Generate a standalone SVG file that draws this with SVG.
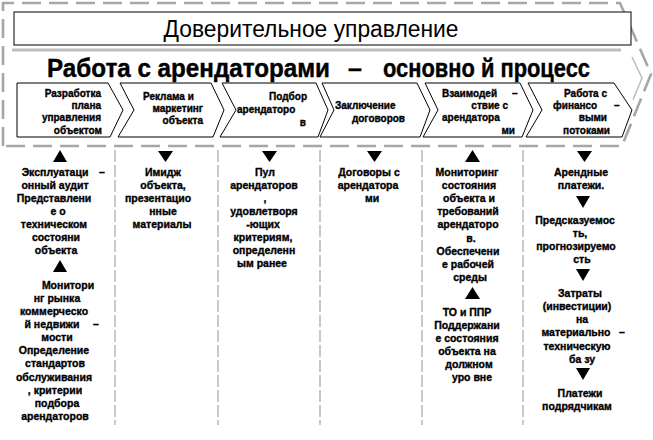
<svg xmlns="http://www.w3.org/2000/svg" width="653" height="440" viewBox="0 0 653 440">
<style>
.frame{fill:none;stroke:#a6a6a6;stroke-width:2.6;stroke-dasharray:19 8}
.div{fill:none;stroke:#a6a6a6;stroke-width:1.2;stroke-dasharray:12 3}
.box{fill:#fff;stroke:#000;stroke-width:1}
.chev{fill:#fff;stroke:#000;stroke-width:1}
.t{font-family:"Liberation Sans",Arial,sans-serif;font-weight:bold;font-size:10.5px;fill:#000;stroke:#000;stroke-width:0.35}
.c{font-family:"Liberation Sans",Arial,sans-serif;font-weight:bold;font-size:10px;fill:#000;stroke:#000;stroke-width:0.35}
.h{font-family:"Liberation Sans",Arial,sans-serif;font-weight:bold;font-size:25px;fill:#000;stroke:#000;stroke-width:0.4}
.m{text-anchor:middle}
.e{text-anchor:end}
.tri{fill:#000}
</style>
<rect width="653" height="440" fill="#fff"/>
<g id="frame">
<path class="frame" d="M3,146 L3,3 L620,3 L651,74 L622,146 Z"/>
</g>
<g id="title">
<rect class="box" x="14" y="12" width="617" height="33"/>
<text x="311" y="37" font-family="'Liberation Sans',Arial,sans-serif" font-size="23" text-anchor="middle" textLength="295" lengthAdjust="spacingAndGlyphs">Доверительное управление</text>
</g>
<g id="main-process">
<line x1="12" y1="50" x2="621" y2="50" stroke="#bdbdbd" stroke-width="3"/>
<polyline points="632,57 642,78 633,100" fill="none" stroke="#bdbdbd" stroke-width="1.5"/>
<text class="h" x="47" y="77" textLength="283" lengthAdjust="spacingAndGlyphs">Работа с арендаторами</text>
<text class="h" x="348" y="77">–</text>
<text class="h" x="383" y="77" textLength="207" lengthAdjust="spacingAndGlyphs">основно й процесс</text>
</g>
<g id="step1">
<path class="chev" d="M17,83 L108,83 L123,110 L110,137 L17,137 Z"/>
<text class="c e" x="101" y="97">Разработка</text>
<text class="c e" x="101" y="109">плана</text>
<text class="c e" x="101" y="121">управления</text>
<text class="c e" x="102" y="134">объектом</text>
</g>
<g id="step2">
<path class="chev" d="M120,83 L211,83 L224,110 L213,137 L118,137 L134,110 Z"/>
<text class="c" x="143" y="100">Реклама и</text>
<text class="c e" x="203" y="112">маркетинг</text>
<text class="c e" x="203" y="124">объекта</text>
</g>
<g id="step3">
<path class="chev" d="M222,83 L316,83 L328,110 L318,137 L220,137 L236,110 Z"/>
<text class="c e" x="307" y="100">Подбор</text>
<text class="c" x="237" y="113">арендаторо</text>
<text class="c e" x="306" y="126">в</text>
</g>
<g id="step4">
<path class="chev" d="M322,83 L417,83 L430,110 L420,137 L320,137 L334,110 Z"/>
<text class="c" x="335" y="109">Заключение</text>
<text class="c e" x="405" y="122">договоров</text>
</g>
<g id="step5">
<path class="chev" d="M425,83 L520,83 L533,110 L522,137 L423,137 L438,110 Z"/>
<text class="c" x="442" y="97">Взаимодей</text>
<text class="c" x="512" y="97">–</text>
<text class="c e" x="508" y="109">ствие с</text>
<text class="c" x="442" y="121">арендатора</text>
<text class="c e" x="515" y="134">ми</text>
</g>
<g id="step6">
<path class="chev" d="M528,83 L614,83 L632,110 L622,137 L526,137 L542,110 Z"/>
<text class="c e" x="607" y="97">Работа с</text>
<text class="c" x="553" y="109">финансо</text>
<text class="c" x="614" y="109">–</text>
<text class="c e" x="607" y="121">выми</text>
<text class="c e" x="610" y="134">потоками</text>
</g>
<g id="dividers">
<line class="div" x1="115" y1="150" x2="115" y2="425"/>
<line class="div" x1="218" y1="150" x2="218" y2="425"/>
<line class="div" x1="320" y1="150" x2="320" y2="425"/>
<line class="div" x1="422" y1="150" x2="422" y2="425"/>
<line class="div" x1="523" y1="150" x2="523" y2="425"/>
</g>
<g id="connectors">
<polygon class="tri" points="53,162 67,162 60,150"/>
<polygon class="tri" points="158,151 173,151 165.5,162"/>
<polygon class="tri" points="262,151 277,151 269.5,162"/>
<polygon class="tri" points="367,151 382,151 374.5,162"/>
<polygon class="tri" points="465,162 480,162 472.5,150"/>
<polygon class="tri" points="577,151 592,151 584.5,162"/>
<polygon class="tri" points="53,272 67,272 60,260"/>
<polygon class="tri" points="465,299 480,299 472.5,287"/>
<polygon class="tri" points="576,196 590,196 583,208"/>
<polygon class="tri" points="576,269 590,269 583,281"/>
<polygon class="tri" points="576,368 590,368 583,380"/>
</g>
<g id="col1">
<text class="t m" x="55" y="176">Эксплуатаци</text>
<text class="t" x="99" y="176">–</text>
<text class="t m" x="55" y="189">онный аудит</text>
<text class="t m" x="54" y="202">Представлени</text>
<text class="t m" x="58" y="215">е о</text>
<text class="t m" x="54" y="228">техническом</text>
<text class="t m" x="56" y="241">состояни</text>
<text class="t m" x="56" y="254">объекта</text>
<text class="t m" x="68" y="289">Монитори</text>
<text class="t m" x="57" y="302">нг рынка</text>
<text class="t m" x="54" y="315">коммерческо</text>
<text class="t m" x="52" y="328">й недвижи</text>
<text class="t" x="93" y="328">–</text>
<text class="t m" x="57" y="341">мости</text>
<text class="t m" x="54" y="354">Определение</text>
<text class="t m" x="55" y="367">стандартов</text>
<text class="t m" x="54" y="381">обслуживания</text>
<text class="t m" x="55" y="394">, критерии</text>
<text class="t m" x="57" y="407">подбора</text>
<text class="t m" x="55" y="420">арендаторов</text>
</g>
<g id="col2">
<text class="t m" x="163" y="176">Имидж</text>
<text class="t m" x="163" y="189">объекта,</text>
<text class="t m" x="158" y="202">презентацио</text>
<text class="t m" x="163" y="215">нные</text>
<text class="t m" x="162" y="228">материалы</text>
</g>
<g id="col3">
<text class="t m" x="265" y="176">Пул</text>
<text class="t m" x="264" y="189">арендаторов</text>
<text class="t m" x="265" y="202">,</text>
<text class="t m" x="264" y="215">удовлетворя</text>
<text class="t m" x="263" y="228">-ющих</text>
<text class="t m" x="263" y="241">критериям,</text>
<text class="t m" x="264" y="254">определенн</text>
<text class="t m" x="262" y="267">ым ранее</text>
</g>
<g id="col4">
<text class="t m" x="369" y="176">Договоры с</text>
<text class="t m" x="368" y="189">арендатора</text>
<text class="t m" x="372" y="202">ми</text>
</g>
<g id="col5">
<text class="t m" x="467" y="176">Мониторинг</text>
<text class="t m" x="469" y="189">состояния</text>
<text class="t m" x="469" y="202">объекта и</text>
<text class="t m" x="468" y="215">требований</text>
<text class="t m" x="468" y="228">арендаторо</text>
<text class="t m" x="471" y="242">в.</text>
<text class="t m" x="468" y="255">Обеспечени</text>
<text class="t m" x="468" y="268">е рабочей</text>
<text class="t m" x="470" y="281">среды</text>
<text class="t m" x="467" y="316">ТО и ППР</text>
<text class="t m" x="467" y="329">Поддержани</text>
<text class="t m" x="467" y="342">е состояния</text>
<text class="t m" x="467" y="355">объекта на</text>
<text class="t m" x="469" y="368">должном</text>
<text class="t m" x="472" y="381">уро вне</text>
</g>
<g id="col6">
<text class="t m" x="581" y="176">Арендные</text>
<text class="t m" x="581" y="189">платежи.</text>
<text class="t m" x="575" y="224">Предсказуемос</text>
<text class="t m" x="580" y="237">ть,</text>
<text class="t m" x="576" y="250">прогнозируемо</text>
<text class="t m" x="582" y="263">сть</text>
<text class="t m" x="580" y="297">Затраты</text>
<text class="t m" x="577" y="310">(инвестиции)</text>
<text class="t m" x="582" y="323">на</text>
<text class="t m" x="576" y="336">материально</text>
<text class="t" x="619" y="336">–</text>
<text class="t m" x="577" y="350">техническую</text>
<text class="t m" x="582" y="363">ба зу</text>
<text class="t m" x="580" y="397">Платежи</text>
<text class="t m" x="577" y="410">подрядчикам</text>
</g>
</svg>
